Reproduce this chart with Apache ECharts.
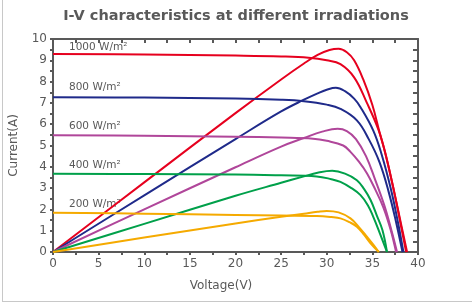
<!DOCTYPE html>
<html>
<head>
<meta charset="utf-8">
<script src="https://cdn.jsdelivr.net/npm/echarts@6/dist/echarts.min.js"></script>
<style>
  html, body { margin: 0; padding: 0; background: #fff; }
  #main { width: 472px; height: 303px; }
</style>
</head>
<body>
<div id="main"></div>
<script>
var myChart = echarts.init(document.getElementById('main'));

// I-V curves [voltage, current]
var iv1000 = [[0,9.3],[10,9.27],[20,9.22],[25,9.18],[28,9.12],[30,9.0],[31.5,8.82],[33,8.2],[34.4,7.0],[35.7,5.7],[36.5,4.5],[37.4,2.8],[38.1,1.3],[38.7,0]];
var iv800 = [[0,7.27],[10,7.25],[20,7.21],[25,7.15],[27.5,7.08],[30,6.92],[31.5,6.72],[33.3,6.18],[34.6,5.3],[35.8,4.2],[36.8,2.8],[37.6,1.4],[38.3,0]];
var iv600 = [[0,5.48],[10,5.46],[20,5.41],[25,5.37],[28.5,5.32],[30,5.22],[31.8,5.0],[32.6,4.7],[33.5,4.25],[34.4,3.7],[35.3,2.95],[36.2,2.1],[37,1.05],[37.6,0]];
var iv400 = [[0,3.67],[10,3.66],[20,3.64],[25,3.6],[28.9,3.55],[30.5,3.42],[31.5,3.29],[32.7,3.0],[33.7,2.67],[34.5,2.2],[35.1,1.65],[35.8,0.9],[36.6,0]];
var iv200 = [[0,1.84],[10,1.8],[20,1.74],[25,1.71],[28.9,1.69],[30.5,1.64],[31.5,1.58],[32.5,1.4],[33.3,1.19],[34.1,0.8],[34.8,0.41],[35.7,0]];

// scaled power curves [voltage, value]
var pv1000 = [[0,0],[10,3.27],[20,6.52],[25,8.1],[27.5,8.85],[29,9.25],[30.3,9.48],[31.3,9.54],[32.2,9.38],[33,9.0],[34,8.1],[35,6.9],[35.8,5.6],[36.5,4.5],[37.5,2.6],[38.2,1.2],[38.8,0]];
var pv800 = [[0,0],[10,2.66],[20,5.3],[25,6.6],[27.5,7.15],[29,7.45],[30,7.62],[31,7.71],[32,7.55],[33,7.2],[33.7,6.8],[35.1,5.7],[36,4.6],[37,3.0],[37.8,1.4],[38.4,0]];
var pv600 = [[0,0],[10,2.0],[20,3.98],[25,4.95],[27.5,5.35],[29.5,5.65],[31.2,5.79],[32.2,5.68],[33.2,5.3],[34.3,4.5],[35.3,3.4],[36.3,2.2],[37.1,1.0],[37.7,0]];
var pv400 = [[0,0],[10,1.32],[20,2.64],[25,3.25],[27.5,3.55],[29,3.72],[30.6,3.81],[32,3.68],[33.3,3.37],[34.1,2.95],[34.8,2.44],[35.5,1.7],[36.1,1.03],[36.6,0]];
var pv200 = [[0,0],[10,0.68],[20,1.34],[25,1.65],[27.5,1.8],[29,1.89],[30,1.93],[31.3,1.86],[32.6,1.58],[33.5,1.18],[34.4,0.72],[35.1,0.35],[35.7,0]];

var irrLabels = ['1000 W/m²', '800 W/m²', '600 W/m²', '400 W/m²', '200 W/m²'];
var colors = ['#e6001e', '#1f2a8a', '#b0469a', '#00a04a', '#f5aa00'];

var axisGrey = '#595959';
var font = 'DejaVu Sans';

function curve(data, color) {
  return {
    type: 'line',
    data: data,
    smooth: 0.4,
    showSymbol: false,
    silent: true,
    lineStyle: { color: color, width: 2 }
  };
}

var ivSets = [iv1000, iv800, iv600, iv400, iv200];
var pvSets = [pv1000, pv800, pv600, pv400, pv200];
var series = [];
for (var i = 0; i < 5; i++) {
  series.push(curve(ivSets[i], colors[i]));
  series.push(curve(pvSets[i], colors[i]));
}

var labelY = [46.5, 86.5, 125, 164, 203.5];
var graphics = irrLabels.map(function (t, i) {
  return {
    type: 'text', x: 69, y: labelY[i] + 1,
    style: { text: t, fill: axisGrey, font: '10.5px "' + font + '"', verticalAlign: 'middle' }
  };
});
graphics.push({
  type: 'text', x: 221, y: 286,
  style: { text: 'Voltage(V)', fill: axisGrey, font: '12px "' + font + '"', align: 'center', verticalAlign: 'middle' }
});
graphics.push({ type: 'line', shape: { x1: 2.5, y1: 0, x2: 2.5, y2: 301.5 }, style: { stroke: '#c8c8c8', lineWidth: 1 } });
graphics.push({ type: 'line', shape: { x1: 2, y1: 301.5, x2: 472, y2: 301.5 }, style: { stroke: '#c8c8c8', lineWidth: 1 } });

var lineSt = { color: axisGrey, width: 2 };

option = {
  animation: false,
  title: {
    text: 'I-V characteristics at different irradiations',
    left: 'center',
    top: 4,
    textStyle: { color: axisGrey, fontSize: 14.5, fontWeight: 'bold', fontFamily: font }
  },
  grid: { left: 53, right: 54, top: 39, bottom: 51 },
  xAxis: [
    {
      type: 'value', min: 0, max: 40, interval: 5, position: 'bottom',
      axisLine: { show: true, onZero: false, lineStyle: lineSt },
      axisTick: { show: true, length: 3, lineStyle: lineSt },
      minorTick: { show: true, splitNumber: 2, length: 3, lineStyle: lineSt },
      axisLabel: { color: axisGrey, fontSize: 12, fontFamily: font, margin: 6 },
      splitLine: { show: false }
    },
    {
      type: 'value', min: 0, max: 40, interval: 2.5, position: 'top',
      axisLine: { show: true, onZero: false, lineStyle: lineSt },
      axisTick: { show: true, inside: true, length: 4, lineStyle: lineSt },
      axisLabel: { show: false },
      splitLine: { show: false }
    }
  ],
  yAxis: [
    {
      type: 'value', min: 0, max: 10, interval: 1, position: 'left',
      name: 'Current(A)', nameLocation: 'middle', nameGap: 33,
      nameTextStyle: { color: axisGrey, fontSize: 12, fontFamily: font },
      axisLine: { show: true, onZero: false, lineStyle: lineSt },
      axisTick: { show: true, length: 3, lineStyle: lineSt },
      minorTick: { show: true, splitNumber: 2, length: 3, lineStyle: lineSt },
      axisLabel: { color: axisGrey, fontSize: 12, fontFamily: font, margin: 6 },
      splitLine: { show: false }
    },
    {
      type: 'value', min: 0, max: 10, interval: 0.5, position: 'right',
      axisLine: { show: true, onZero: false, lineStyle: lineSt },
      axisTick: { show: true, inside: true, length: 5, lineStyle: lineSt },
      axisLabel: { show: false },
      splitLine: { show: false }
    }
  ],
  graphic: graphics,
  series: series
};

myChart.setOption(option);
</script>
</body>
</html>
